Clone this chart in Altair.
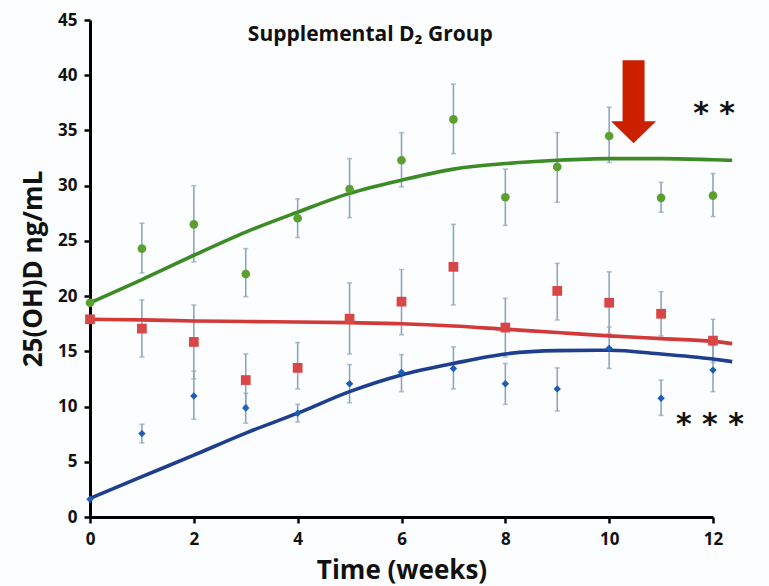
import altair as alt
import pandas as pd

weeks = [0, 1, 2, 3, 4, 5, 6, 7, 8, 9, 10, 11, 12]

green_mean = [19.4, 24.3, 26.5, 22.0, 27.05, 29.7, 32.3, 36.0, 28.95, 31.7, 34.5, 28.9, 29.1]
green_hi = [None, 26.6, 30.0, 24.3, 28.8, 32.45, 34.8, 39.2, 31.5, 34.8, 37.1, 30.3, 31.1]
green_lo = [None, 22.1, 23.1, 19.95, 25.3, 27.1, 29.9, 32.9, 26.4, 28.5, 32.1, 27.6, 27.2]

red_mean = [17.9, 17.06, 15.85, 12.4, 13.5, 17.96, 19.5, 22.65, 17.15, 20.47, 19.4, 18.4, 15.97]
red_hi = [None, 19.65, 19.2, 14.76, 15.8, 21.2, 22.4, 26.5, 19.8, 22.97, 22.2, 20.4, 17.9]
red_lo = [None, 14.5, 12.5, 10.1, 11.6, 14.76, 16.5, 19.2, 14.5, 17.84, 16.6, 16.4, 14.0]

blue_mean = [1.6, 7.55, 10.96, 9.87, 9.4, 12.07, 13.1, 13.45, 12.07, 11.6, 15.27, 10.75, 13.3]
blue_hi = [None, 8.4, 13.2, 11.2, 10.2, 13.8, 14.7, 15.4, 13.9, 13.5, 17.2, 12.4, 15.5]
blue_lo = [None, 6.7, 8.85, 8.5, 8.6, 10.35, 11.35, 11.6, 10.2, 9.6, 13.45, 9.2, 11.35]

# fitted trend curves
curve_x = [0, 1, 2, 3, 4, 5, 6, 7, 8, 9, 10, 11, 12, 12.37]
green_curve = [19.4, 21.5, 23.7, 25.8, 27.6, 29.3, 30.5, 31.5, 32.0, 32.3, 32.45, 32.45, 32.35, 32.3]
red_curve = [17.9, 17.85, 17.75, 17.7, 17.65, 17.6, 17.5, 17.3, 17.0, 16.7, 16.4, 16.15, 15.9, 15.7]
blue_curve = [1.68, 3.65, 5.6, 7.6, 9.4, 11.35, 12.86, 13.9, 14.76, 15.06, 15.1, 14.76, 14.3, 14.07]

x_ticks = [0, 2, 4, 6, 8, 10, 12]
y_ticks = [0, 5, 10, 15, 20, 25, 30, 35, 40, 45]

title_text = ["Supplemental D\u2082 Group"]
title_pos = [(5.4, 43.6)]
stars_text = ["* *", "* * *"]
stars_pos = [(12.02, 36.45), (11.94, 8.3)]
arrow_pos = [(10.47, 37.6)]

FONT = "Open Sans"

groups = [
    ("green", green_mean, green_hi, green_lo, green_curve),
    ("red", red_mean, red_hi, red_lo, red_curve),
    ("blue", blue_mean, blue_hi, blue_lo, blue_curve),
]

pts_rows, err_rows, cur_rows = [], [], []
for g, m, hi, lo, cur in groups:
    for w, mv, h, l in zip(weeks, m, hi, lo):
        pts_rows.append({"g": g, "week": w, "v": mv})
        if h is not None:
            err_rows.append({"g": g, "week": w, "hi": h, "lo": l})
    for cx, cv in zip(curve_x, cur):
        cur_rows.append({"g": g, "week": cx, "v": cv})

pts = pd.DataFrame(pts_rows)
err = pd.DataFrame(err_rows)
cur = pd.DataFrame(cur_rows)

xs = alt.Scale(domain=[0, 12], nice=False)
ys = alt.Scale(domain=[0, 45], nice=False)
X = alt.X("week:Q", scale=xs, axis=alt.Axis(values=x_ticks, title="Time (weeks)"))
Y = alt.Y("v:Q", scale=ys, axis=alt.Axis(values=y_ticks, title="25(OH)D ng/mL"))

err_color = "#8ea6bd"
errbars = alt.Chart(err).mark_rule(color=err_color, strokeWidth=1.6).encode(
    x=alt.X("week:Q", scale=xs), y=alt.Y("hi:Q", scale=ys), y2="lo:Q")
cap_hi = alt.Chart(err).mark_tick(color=err_color, orient="horizontal", size=5, thickness=1.6).encode(
    x=alt.X("week:Q", scale=xs), y=alt.Y("hi:Q", scale=ys))
cap_lo = alt.Chart(err).mark_tick(color=err_color, orient="horizontal", size=5, thickness=1.6).encode(
    x=alt.X("week:Q", scale=xs), y=alt.Y("lo:Q", scale=ys))

curve_colors = {"green": "#3d8b26", "red": "#d23a3a", "blue": "#1d3f8e"}
curves = alt.layer(*[
    alt.Chart(cur[cur.g == g]).mark_line(color=c, strokeWidth=3.6, interpolate="monotone", clip=False).encode(x=X, y=Y)
    for g, c in curve_colors.items()
])

gp = alt.Chart(pts[pts.g == "green"]).mark_point(shape="circle", filled=True, size=75, color="#5b9f2e", opacity=1).encode(x=X, y=Y)
rp = alt.Chart(pts[pts.g == "red"]).mark_point(shape="square", filled=True, size=95, color="#d94646", opacity=1).encode(x=X, y=Y)
bp = alt.Chart(pts[pts.g == "blue"]).mark_point(shape="diamond", filled=True, size=55, color="#1c5db5", opacity=1).encode(x=X, y=Y)

tdf = pd.DataFrame({"t": title_text, "week": [p[0] for p in title_pos], "v": [p[1] for p in title_pos]})
title_mark = alt.Chart(tdf).mark_text(font=FONT, fontWeight="bold", fontSize=21, color="#111", align="center", baseline="middle").encode(
    x=alt.X("week:Q", scale=xs), y=alt.Y("v:Q", scale=ys), text="t:N")

sdf = pd.DataFrame({"t": stars_text, "week": [p[0] for p in stars_pos], "v": [p[1] for p in stars_pos]})
stars = alt.Chart(sdf).mark_text(font="DejaVu Sans", fontWeight="bold", fontSize=30, color="#111", align="center", baseline="middle", clip=False).encode(
    x=alt.X("week:Q", scale=xs), y=alt.Y("v:Q", scale=ys), text="t:N")

adf = pd.DataFrame({"week": [p[0] for p in arrow_pos], "v": [p[1] for p in arrow_pos]})
arrow_shape = "M-0.265,-1 L0.265,-1 L0.265,0.47 L0.542,0.47 L0,1 L-0.542,0.47 L-0.265,0.47 Z"
arrow = alt.Chart(adf).mark_point(shape=arrow_shape, filled=True, size=6889, color="#cc1f00", opacity=1, strokeWidth=0).encode(
    x=alt.X("week:Q", scale=xs), y=alt.Y("v:Q", scale=ys))

chart = alt.layer(errbars, cap_hi, cap_lo, curves, gp, rp, bp, arrow, stars, title_mark).properties(
    width=623, height=497,
    autosize=alt.AutoSizeParams(type="none"),
    padding={"left": 90, "top": 20, "right": 56, "bottom": 69},
    background="#fcfdff",
).configure_view(stroke=None).configure_axis(
    grid=False, labelFlush=False,
    domainColor="#000", domainWidth=3,
    tickColor="#000", tickWidth=2.5, tickSize=6,
    labelFont=FONT, labelFontWeight="bold", labelFontSize=17, labelColor="#111",
    titleFont=FONT, titleFontWeight="bold", titleColor="#111",
).configure_axisX(
    labelPadding=8, titleFontSize=26, titleY=61, titleBaseline="alphabetic",
).configure_axisY(
    labelPadding=7, titleFontSize=26, titlePadding=11,
)

chart.save("out.html", embed_options={"renderer": "svg", "actions": False})
